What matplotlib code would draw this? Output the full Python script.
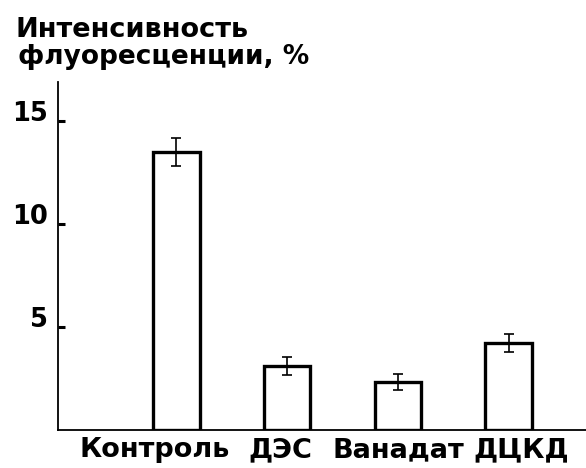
import matplotlib
matplotlib.use("Agg")
import matplotlib.pyplot as plt
import matplotlib.transforms as mtransforms
import numpy as np

categories = ["Контроль", "ДЭС", "Ванадат", "ДЦКД"]
values = [13.5, 3.1, 2.33, 4.22]
errors = [0.7, 0.45, 0.4, 0.45]
yticks = [5, 10, 15]
ytick_labels = ["5", "10", "15"]
title_lines = ["Интенсивность", "флуоресценции, %"]

plt.rcParams['font.family'] = ['DejaVu Sans']
FS = 19.5

W, H = 586, 468
fig = plt.figure(figsize=(W / 100, H / 100), dpi=100)
ax = fig.add_axes([58 / W, (H - 430) / H, (W - 58) / W, (430 - 82) / H])

x = np.arange(len(categories))
ax.bar(x, values, width=0.42, facecolor='white', edgecolor='black', linewidth=2.4, zorder=2)
ax.errorbar(x, values, yerr=errors, fmt='none', ecolor='black', elinewidth=1.2,
            capsize=3.5, capthick=1.2, zorder=3)

ax.set_xlim(-1.07, 3.7)
ax.set_ylim(0, 16.9)
for s in ['top', 'right']:
    ax.spines[s].set_visible(False)
ax.spines['left'].set_linewidth(1.3)
ax.spines['bottom'].set_linewidth(1.3)

ax.set_yticks(yticks)
ax.set_yticklabels(ytick_labels, fontsize=18.5, fontweight='bold')
ax.tick_params(axis='y', direction='in', length=5, width=2.2, pad=7)
for lab in ax.get_yticklabels():
    lab.set_verticalalignment('baseline')

ax.set_xticks(x)
ax.set_xticklabels(categories, fontsize=FS, fontweight='bold')
ax.tick_params(axis='x', length=0, pad=5)
offs = [-22, -7, 1, 13]
for lab, o in zip(ax.get_xticklabels(), offs):
    lab.set_transform(lab.get_transform() + mtransforms.ScaledTranslation(o / 100, 0, fig.dpi_scale_trans))

fig.text(15 / W, 1 - 37 / H, title_lines[0], fontsize=FS, fontweight='bold', va='baseline', ha='left')
fig.text(18 / W, 1 - 64 / H, title_lines[1], fontsize=19, fontweight='bold', va='baseline', ha='left')

fig.savefig("out.png", dpi=100)
